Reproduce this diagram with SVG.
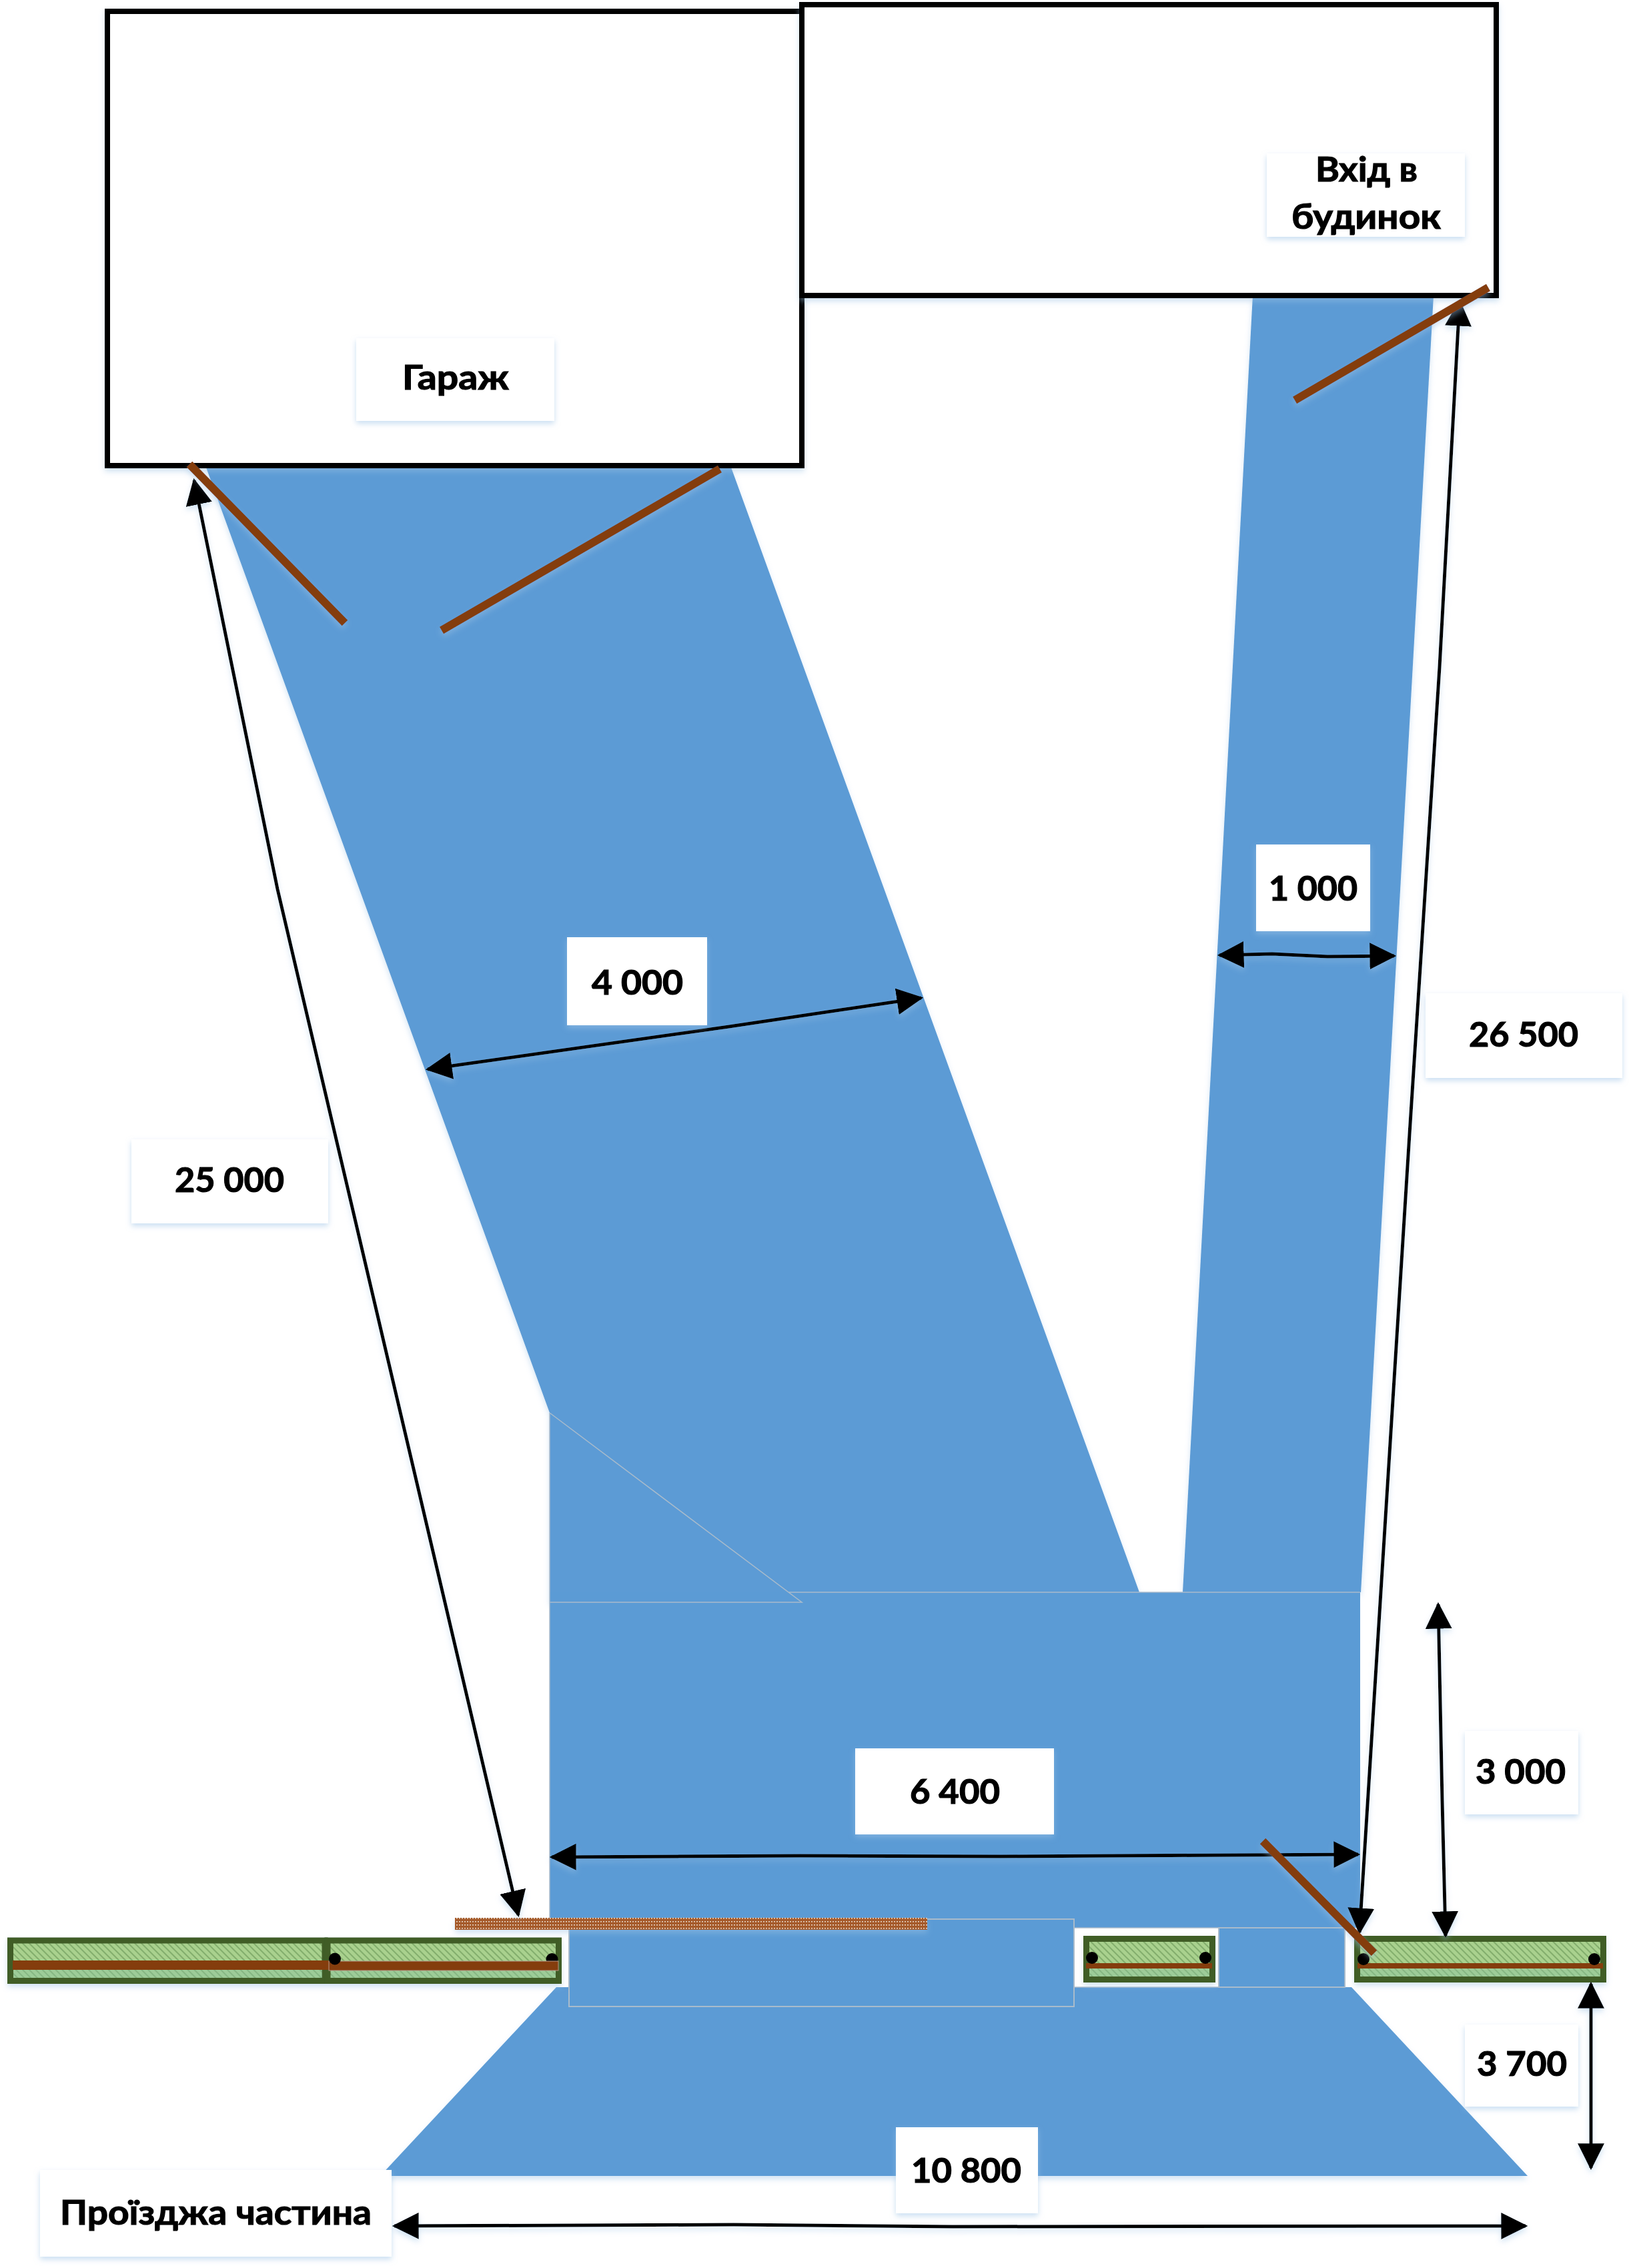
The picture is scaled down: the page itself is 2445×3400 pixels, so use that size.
<svg xmlns="http://www.w3.org/2000/svg" width="2445" height="3400" viewBox="0 0 2445 3400">
<defs>
<style>
.road{fill:#5b9bd5;stroke:none}
.edge{fill:#5b9bd5;stroke:#a9bbcb;stroke-width:2}
.bldg{fill:#fff;stroke:#000;stroke-width:8}
.door{fill:none;stroke:#843c0c;stroke-width:12}
.box{fill:#fff;filter:url(#sh)}
.t{font-family:"Lato","Noto Sans",sans-serif;font-weight:700;font-size:52px;fill:#000;stroke:#000;stroke-width:1.200}
.isl{fill:url(#hatch);stroke:#3f5d28;stroke-width:9}
.low{fill:#8cc5a8;opacity:.4}
.strip{fill:#843c0c}
.arr{fill:none;stroke:#000;stroke-width:5;marker-start:url(#ah);marker-end:url(#ah)}
</style>
<filter id="sh" x="-20%" y="-20%" width="140%" height="140%"><feDropShadow dx="0" dy="4" stdDeviation="4" flood-color="#9dc3e6" flood-opacity="0.55"/></filter>
<filter id="sl" filterUnits="userSpaceOnUse" x="0" y="0" width="2445" height="3400"><feDropShadow dx="0" dy="5" stdDeviation="4" flood-color="#9dc3e6" flood-opacity="0.45"/></filter>
<pattern id="hatch" width="7" height="7" patternUnits="userSpaceOnUse" patternTransform="rotate(-45)"><rect width="7" height="7" fill="#a9d18e"/><rect width="2" height="7" fill="#82ad6c"/></pattern>
<pattern id="brick" width="4" height="5" patternUnits="userSpaceOnUse"><rect width="4" height="5" fill="#a55a2c"/><rect width="2" height="1.500" fill="#e8d8ca"/></pattern>
<marker id="ah" markerUnits="userSpaceOnUse" markerWidth="40" markerHeight="40" refX="33" refY="18" orient="auto-start-reverse" viewBox="0 0 36 36"><path d="M0,0L36,18L0,36Z" fill="#000"/></marker>
</defs>
<rect width="2445" height="3400" fill="#fff"/>

<g id="road" filter="url(#sl)">
<polygon class="road" points="308,698 1095,698 1708,2387 1708,2402 824,2402 824,2118"/>
<polygon class="road" points="1878,443 2149,443 2040,2387 1773,2387"/>
<polygon class="road" points="834,2979 2026,2979 2290,3262 570,3262"/>
</g>
<g id="entry">
<rect class="road" x="824" y="2387" width="1215" height="503"/>
<path d="M824,2118V2875M824,2118L1202,2402H824M1182,2387H2039" fill="none" stroke="#a9bbcb" stroke-width="1.500"/>
<rect x="824" y="2893" width="29" height="86" fill="#fff"/>
<rect x="1610" y="2890" width="217" height="89" fill="#fff" stroke="#a9bbcb" stroke-width="1.500"/>
<rect x="2016" y="2890" width="30" height="89" fill="#fff"/>
<rect class="edge" x="853" y="2877" width="757" height="131"/>
<rect class="edge" x="1827" y="2890" width="189" height="89"/>
</g>

<g id="garage" filter="url(#sl)"><rect class="bldg" x="161" y="17" width="1041" height="681"/></g>
<g id="house" filter="url(#sl)"><rect class="bldg" x="1202" y="7" width="1041" height="436"/></g>

<g id="bar" filter="url(#sl)"><rect x="682" y="2875" width="708" height="18" fill="url(#brick)"/></g>

<g id="island-left" filter="url(#sl)">
<rect class="isl" x="15.500" y="2909" width="471.500" height="60.500"/>
<rect class="isl" x="491" y="2909" width="346.500" height="60.500"/>
<rect class="low" x="20" y="2953" width="463" height="12"/>
<rect class="low" x="496" y="2954" width="337" height="11"/>
<circle cx="827.500" cy="2937" r="9"/>
<rect class="strip" x="19" y="2939" width="474" height="14"/>
<rect class="strip" x="493" y="2940" width="344" height="14" stroke="#b59a8a" stroke-width="1"/>
<circle cx="502" cy="2936.500" r="9"/>
</g>
<g id="island-mid" filter="url(#sl)">
<rect class="isl" x="1628.500" y="2906.500" width="189" height="61"/>
<rect class="low" x="1633" y="2951" width="180" height="12"/>
<rect class="strip" x="1628" y="2943" width="189" height="8"/>
<circle cx="1637" cy="2935" r="9"/><circle cx="1807" cy="2935" r="9"/>
</g>
<g id="island-right" filter="url(#sl)">
<rect class="isl" x="2034.500" y="2906.500" width="369" height="61"/>
<rect class="low" x="2039" y="2951" width="360" height="12"/>
<rect class="strip" x="2035" y="2943" width="368" height="8"/>
<circle cx="2044" cy="2937" r="9"/><circle cx="2390" cy="2937" r="9"/>
</g>

<g id="connectors" filter="url(#sl)">
<path class="arr" d="M291,720L416,1333L777,2871"/>
<path class="arr" d="M2188,452L2158,1000L2113,1700L2038,2897"/>
<path class="arr" d="M641,1603L1093,1539L1381,1496"/>
<path class="arr" d="M1828,1432L1907,1430L1990,1434L2090,1433"/>
<path class="arr" d="M827,2784L1200,2782L1500,2783L2036,2780"/>
<path class="arr" d="M2156,2405L2162,2700L2167,2902"/>
<path class="arr" d="M2385,2974V3250"/>
<path class="arr" d="M591,3337L1100,3335L1428,3338L2287,3337"/>
</g>

<g id="doors" filter="url(#sl)">
<line class="door" x1="284" y1="696" x2="517" y2="934"/>
<line class="door" x1="1079" y1="703" x2="662" y2="945"/>
<line class="door" x1="2231" y1="431" x2="1941" y2="600"/>
<line class="door" x1="1893" y1="2760" x2="2060" y2="2928"/>
</g>

<g id="label-garage"><rect class="box" x="534" y="507" width="297" height="124"/><text class="t" x="603" y="584" textLength="160" lengthAdjust="spacingAndGlyphs">Гараж</text></g>
<g id="label-entrance"><rect class="box" x="1899" y="230" width="297" height="125"/><text class="t" x="1972" y="272" textLength="153" lengthAdjust="spacingAndGlyphs">Вхід в</text><text class="t" x="1936" y="343" textLength="224" lengthAdjust="spacingAndGlyphs">будинок</text></g>
<g id="label-4000"><rect class="box" x="850" y="1405" width="210" height="132"/><text class="t" x="887" y="1491" textLength="137" lengthAdjust="spacingAndGlyphs">4 000</text></g>
<g id="label-1000"><rect class="box" x="1883" y="1266" width="171" height="130"/><text class="t" x="1902" y="1350" textLength="133" lengthAdjust="spacingAndGlyphs">1 000</text></g>
<g id="label-26500"><rect class="box" x="2137" y="1489" width="295" height="127"/><text class="t" x="2202" y="1569" textLength="164" lengthAdjust="spacingAndGlyphs">26 500</text></g>
<g id="label-25000"><rect class="box" x="197" y="1708" width="295" height="126"/><text class="t" x="262" y="1787" textLength="164" lengthAdjust="spacingAndGlyphs">25 000</text></g>
<g id="label-6400"><rect class="box" x="1282" y="2621" width="298" height="129"/><text class="t" x="1364" y="2704" textLength="135" lengthAdjust="spacingAndGlyphs">6 400</text></g>
<g id="label-3000"><rect class="box" x="2196" y="2595" width="170" height="125"/><text class="t" x="2212" y="2674" textLength="135" lengthAdjust="spacingAndGlyphs">3 000</text></g>
<g id="label-3700"><rect class="box" x="2196" y="3035" width="170" height="123"/><text class="t" x="2214" y="3112" textLength="135" lengthAdjust="spacingAndGlyphs">3 700</text></g>
<g id="label-10800"><rect class="box" x="1343" y="3189" width="213" height="129"/><text class="t" x="1366" y="3272" textLength="165" lengthAdjust="spacingAndGlyphs">10 800</text></g>
<g id="label-road"><rect class="box" x="60" y="3253" width="527" height="130"/><text class="t" x="90" y="3335" textLength="467" lengthAdjust="spacingAndGlyphs">Проїзджа частина</text></g>
</svg>
